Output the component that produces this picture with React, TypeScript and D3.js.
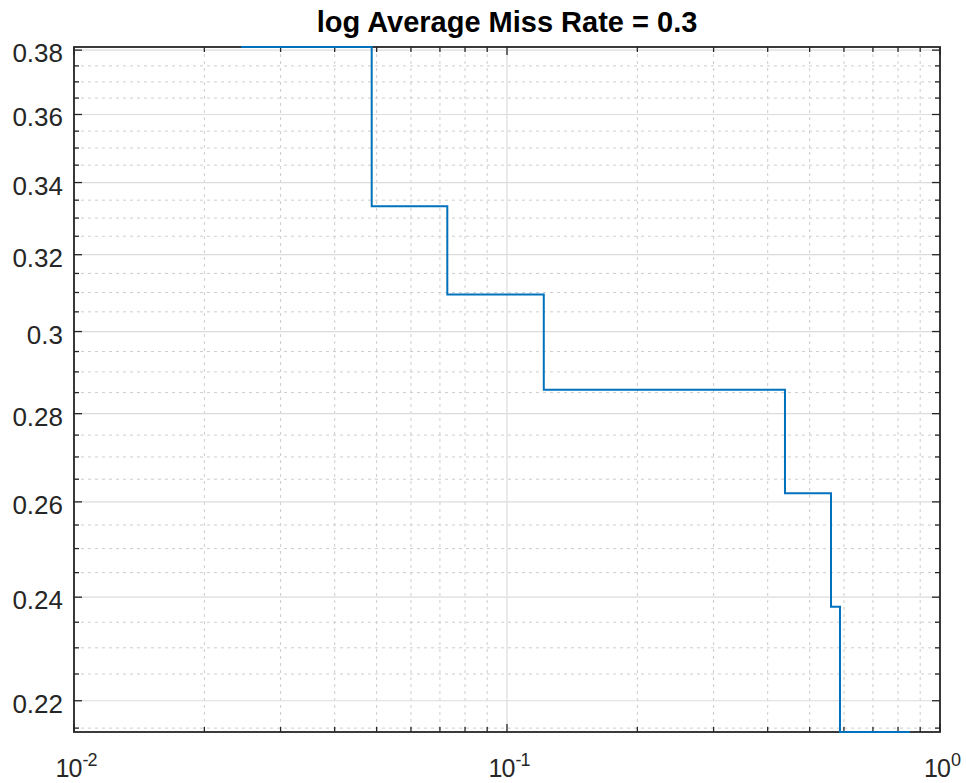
import React from "react";
import * as d3 from "d3";

// Data (false positives per image vs miss rate)
const fppi = [0.0243, 0.0487, 0.0728, 0.1216, 0.4385, 0.5601, 0.5875, 0.8525];
const missRate = [0.381, 0.3333, 0.3095, 0.2857, 0.2619, 0.2381, 0.2143, 0.2143];

const yTicks = [0.22, 0.24, 0.26, 0.28, 0.3, 0.32, 0.34, 0.36, 0.38];
const yTickLabels = ["0.22", "0.24", "0.26", "0.28", "0.3", "0.32", "0.34", "0.36", "0.38"];
const xTicks = [0.01, 0.1, 1];
const xTickExponents = ["-2", "-1", "0"];
const titleText = "log Average Miss Rate = 0.3";

const W = 966;
const H = 783;
const left = 74;
const right = 940;
const top = 47;
const bottom = 732;

const FONT = "'Liberation Sans', Arial, Helvetica, sans-serif";
const AXIS = "#262626";
const BLUE = "#0072BD";

export default function App() {
  const x = d3.scaleLog().domain([0.01, 1]).range([left, right]);
  const yExt = d3.extent(missRate) as [number, number];
  const y = d3.scaleLog().domain(yExt).range([bottom, top]);

  const xMinor: number[] = [];
  [0.01, 0.1].forEach((dec) => {
    for (let k = 2; k <= 9; k++) xMinor.push(dec * k);
  });
  const yMinor: number[] = [];
  for (let v = 0.215; v <= 0.3801; v += 0.005) {
    const r = Math.round(v * 1000) / 1000;
    if (Math.round(r * 1000) % 20 === 0) continue;
    if (r < yExt[0] || r > yExt[1]) continue;
    yMinor.push(r);
  }

  const pts = fppi.map((f, i) => [f, missRate[i]] as [number, number]);
  const line = d3
    .line<[number, number]>()
    .x((d) => x(d[0]))
    .y((d) => y(d[1]))
    .curve(d3.curveStepAfter);

  return (
    <svg
      width={W}
      height={H}
      style={{ position: "absolute", left: 0, top: 0, background: "#fff" }}
    >
      <rect x={0} y={0} width={W} height={H} fill="#fff" />
      {/* minor grid */}
      <g stroke="#cdcdcd" strokeWidth={1} strokeDasharray="3,4">
        {xMinor.map((v, i) => (
          <line key={"xm" + i} x1={x(v)} x2={x(v)} y1={top} y2={bottom} />
        ))}
        {yMinor.map((v, i) => (
          <line key={"ym" + i} x1={left} x2={right} y1={y(v)} y2={y(v)} />
        ))}
      </g>
      {/* major grid */}
      <g stroke="#dcdcdc" strokeWidth={1.2}>
        {xTicks.map((v, i) => (
          <line key={"xg" + i} x1={x(v)} x2={x(v)} y1={top} y2={bottom} />
        ))}
        {yTicks.map((v, i) => (
          <line key={"yg" + i} x1={left} x2={right} y1={y(v)} y2={y(v)} />
        ))}
      </g>
      {/* ticks */}
      <g stroke={AXIS} strokeWidth={1.3}>
        {xMinor.map((v, i) => (
          <g key={"xmt" + i}>
            <line x1={x(v)} x2={x(v)} y1={bottom} y2={bottom - 5} />
            <line x1={x(v)} x2={x(v)} y1={top} y2={top + 5} />
          </g>
        ))}
        {xTicks.map((v, i) => (
          <g key={"xt" + i}>
            <line x1={x(v)} x2={x(v)} y1={bottom} y2={bottom - 8} />
            <line x1={x(v)} x2={x(v)} y1={top} y2={top + 8} />
          </g>
        ))}
        {yMinor.map((v, i) => (
          <g key={"ymt" + i}>
            <line x1={left} x2={left + 5} y1={y(v)} y2={y(v)} />
            <line x1={right} x2={right - 5} y1={y(v)} y2={y(v)} />
          </g>
        ))}
        {yTicks.map((v, i) => (
          <g key={"yt" + i}>
            <line x1={left} x2={left + 8} y1={y(v)} y2={y(v)} />
            <line x1={right} x2={right - 8} y1={y(v)} y2={y(v)} />
          </g>
        ))}
      </g>
      {/* box */}
      <rect
        x={left}
        y={top}
        width={right - left}
        height={bottom - top}
        fill="none"
        stroke={AXIS}
        strokeWidth={1.8}
      />
      {/* data */}
      <path d={line(pts) || ""} fill="none" stroke={BLUE} strokeWidth={2} />
      {/* y tick labels */}
      <g fontFamily={FONT} fontSize={26} fill={AXIS} textAnchor="end">
        {yTicks.map((v, i) => (
          <text key={"yl" + i} x={63} y={y(v) + 12}>
            {yTickLabels[i]}
          </text>
        ))}
      </g>
      {/* x tick labels */}
      <g fontFamily={FONT} fill={AXIS} textAnchor="middle">
        {xTicks.map((v, i) => (
          <text key={"xl" + i} x={x(v) + 2} y={777} fontSize={25} letterSpacing={-1}>
            10
            <tspan fontSize={18} dy={-11} dx={1}>
              {xTickExponents[i]}
            </tspan>
          </text>
        ))}
      </g>
      {/* title */}
      <text
        x={(left + right) / 2}
        y={32}
        textAnchor="middle"
        fontFamily={FONT}
        fontWeight="bold"
        fontSize={29}
        fill="#000"
      >
        {titleText}
      </text>
    </svg>
  );
}
